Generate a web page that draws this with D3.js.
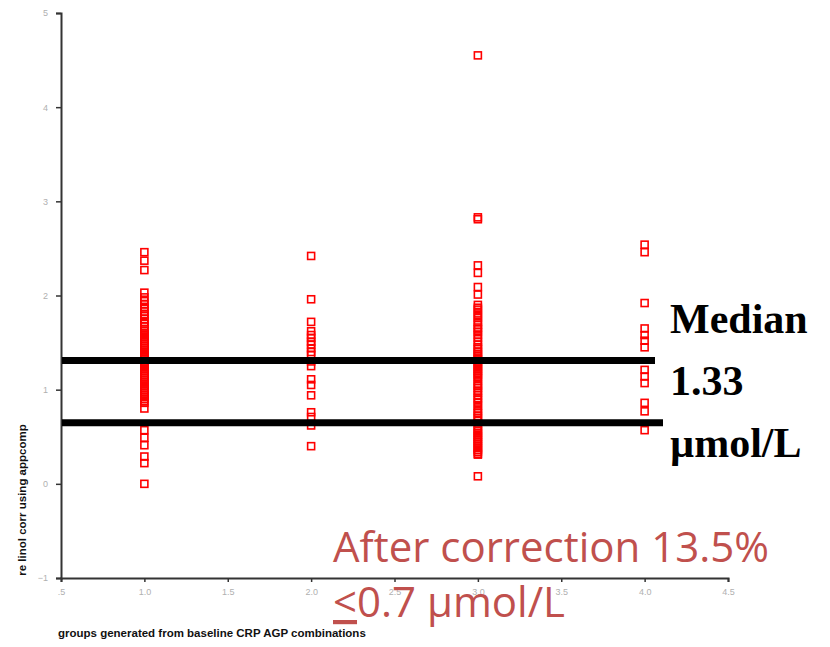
<!DOCTYPE html>
<html>
<head>
<meta charset="utf-8">
<script src="https://cdn.jsdelivr.net/npm/d3@7"></script>
<style>
  body { margin: 0; background: #fff; }
  svg { display: block; }
</style>
</head>
<body>
<div id="chart-area"></div>
<script>
const width = 830;
const height = 647;

// retinol values, one array per group
const group1 = [2.46, 2.37, 2.27, 2.03, 1.98, 1.94, 1.91, 1.88, 1.86, 1.83, 1.80,
    1.78, 1.75, 1.72, 1.70, 1.67, 1.64,
    1.62, 1.60, 1.58, 1.56, 1.54, 1.52, 1.50, 1.48, 1.46, 1.44, 1.42, 1.40, 1.38,
    1.36, 1.34, 1.32, 1.30, 1.28, 1.26, 1.24, 1.22, 1.20, 1.18, 1.16, 1.14, 1.12,
    1.10, 1.08, 1.06, 1.04, 1.02, 1.00, 0.98, 0.96, 0.94, 0.92, 0.90, 0.88, 0.86,
    0.80, 0.57, 0.49, 0.41, 0.29, 0.22, 0.0];
const group2 = [2.42, 1.96, 1.72, 1.62, 1.58, 1.55, 1.51, 1.48, 1.44, 1.40, 1.37,
    1.30, 1.25, 1.11, 1.05, 0.94, 0.76, 0.71, 0.62, 0.40];
const group3 = [4.55, 2.83, 2.81, 2.32, 2.24, 2.09, 2.01, 1.90, 1.87, 1.85, 1.81,
    1.78, 1.76, 1.72, 1.69, 1.66, 1.64, 1.61, 1.58, 1.55, 1.51, 1.48, 1.45, 1.43,
    1.40, 1.38, 1.36, 1.34, 1.32, 1.30, 1.28, 1.26, 1.24, 1.22, 1.20, 1.18, 1.16,
    1.14, 1.12, 1.09, 1.06, 1.04, 1.02, 0.99, 0.97, 0.94, 0.91, 0.89, 0.86, 0.83,
    0.80, 0.77, 0.75, 0.72, 0.70, 0.67, 0.64, 0.61, 0.58,
    0.56, 0.54, 0.52, 0.50, 0.48, 0.46, 0.44, 0.42, 0.40, 0.38, 0.36, 0.34, 0.32,
    0.31, 0.08];
const group4 = [2.54, 2.46, 1.92, 1.65, 1.58, 1.52, 1.45, 1.21, 1.14, 1.07, 0.86,
    0.77, 0.57];
const groupX = [1.0, 2.0, 3.0, 4.0];

const xTicks = [0.5, 1.0, 1.5, 2.0, 2.5, 3.0, 3.5, 4.0, 4.5];
const xTickLabels = [".5", "1.0", "1.5", "2.0", "2.5", "3.0", "3.5", "4.0", "4.5"];
const yTicks = [-1, 0, 1, 2, 3, 4, 5];

const refLines = [1.31, 0.65];

const svg = d3.select("#chart-area")
    .append("svg")
    .attr("width", width)
    .attr("height", height);

const x = d3.scaleLinear().domain([0.5, 4.5]).range([61, 728]);
const y = d3.scaleLinear().domain([-1, 5]).range([578, 13]);

// axes
const yAxis = svg.append("g")
    .attr("transform", "translate(61,0)")
    .call(d3.axisLeft(y).tickValues(yTicks).tickSize(5).tickPadding(8)
        .tickFormat(d3.format("d")));
const xAxis = svg.append("g")
    .attr("transform", "translate(0,578)")
    .call(d3.axisBottom(x).tickValues(xTicks).tickSize(4).tickPadding(7)
        .tickFormat((d, i) => xTickLabels[i]));

[yAxis, xAxis].forEach(g => {
    g.select(".domain").attr("stroke", "#333").attr("stroke-width", 2);
    g.selectAll(".tick line").attr("stroke", "#333").attr("stroke-width", 1.5);
    g.selectAll(".tick text")
        .attr("fill", "#b0b0b0")
        .style("font-family", "Arial, 'Liberation Sans', sans-serif")
        .style("font-size", "9px");
});

svg.append("text")
    .attr("transform", "translate(26,500) rotate(-90)")
    .attr("text-anchor", "middle")
    .style("font-family", "Arial, 'Liberation Sans', sans-serif")
    .style("font-size", "11.5px")
    .style("font-weight", "bold")
    .attr("fill", "#111")
    .text("re linol corr using appcomp");

svg.append("text")
    .attr("x", 58)
    .attr("y", 637)
    .style("font-family", "Arial, 'Liberation Sans', sans-serif")
    .style("font-size", "11.5px")
    .style("font-weight", "bold")
    .attr("fill", "#111")
    .text("groups generated from baseline CRP AGP combinations");

// points: open squares, overlapping strokes merge into solid runs
const groups = [group1, group2, group3, group4];
groups.forEach((vals, gi) => {
    svg.append("g").selectAll("rect")
        .data(vals)
        .enter().append("rect")
        .attr("x", x(groupX[gi]) - 3.5)
        .attr("y", d => y(d) - 3.5)
        .attr("width", 7)
        .attr("height", 7)
        .attr("fill", "none")
        .attr("stroke", "#ff0000")
        .attr("stroke-width", 1.6);
});

// thick median / cutoff lines
const lineEnds = [655, 663];
svg.selectAll(".ref")
    .data(refLines)
    .enter().append("line")
    .attr("class", "ref")
    .attr("x1", 62)
    .attr("x2", (d, i) => lineEnds[i])
    .attr("y1", d => y(d))
    .attr("y2", d => y(d))
    .attr("stroke", "#000")
    .attr("stroke-width", 7);

// annotations
const medianLines = ["Median", "1.33", "\u00b5mol/L"];
svg.append("g").selectAll("text")
    .data(medianLines)
    .enter().append("text")
    .attr("x", 670)
    .attr("y", (d, i) => 333 + i * 62)
    .style("font-family", "'Liberation Serif', 'Times New Roman', serif")
    .style("font-weight", "bold")
    .style("font-size", "42px")
    .attr("fill", "#000")
    .text(d => d);

const red = "#c0504d";
svg.append("text")
    .attr("x", 333)
    .attr("y", 562)
    .style("font-family", "'Open Sans', sans-serif")
    .style("font-size", "42px")
    .attr("fill", red)
    .text("After correction 13.5%");

const t2 = svg.append("text")
    .attr("x", 333)
    .attr("y", 617)
    .style("font-family", "'Open Sans', sans-serif")
    .style("font-size", "42px")
    .attr("fill", red);
t2.append("tspan").style("text-decoration", "underline").text("<");
t2.append("tspan").text("0.7 \u00b5mol/L");
</script>
</body>
</html>
